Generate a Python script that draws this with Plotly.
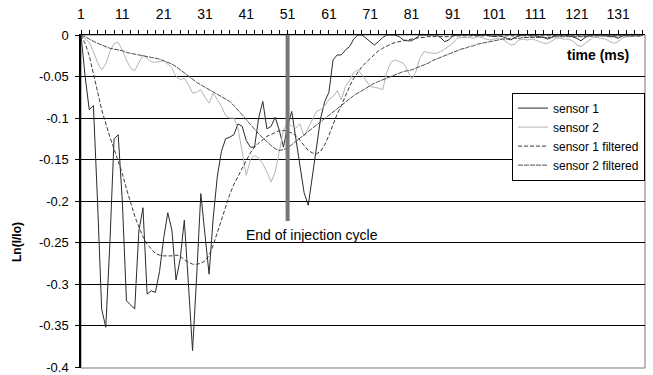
import plotly.graph_objects as go

# ---------------- data ----------------
time_idx = list(range(1, 138))

sensor1 = [
    0, -0.05, -0.09, -0.085, -0.2, -0.33, -0.352, -0.25, -0.125, -0.12,
    -0.2, -0.32, -0.325, -0.33, -0.236, -0.208, -0.312, -0.308, -0.31, -0.285,
    -0.245, -0.214, -0.235, -0.295, -0.27, -0.223, -0.3, -0.38, -0.29, -0.191,
    -0.24, -0.288, -0.22, -0.17, -0.14, -0.125, -0.123, -0.12, -0.107, -0.11,
    -0.127, -0.135, -0.135, -0.1, -0.08, -0.113, -0.11, -0.099, -0.115, -0.135,
    -0.11, -0.092, -0.125, -0.16, -0.19, -0.205, -0.17, -0.14, -0.1, -0.08,
    -0.069, -0.03, -0.024, -0.024, -0.018, -0.014, -0.005, 0, 0, -0.004,
    -0.008, -0.012, -0.008, -0.003, 0, 0, 0, -0.002, -0.006, -0.007,
    -0.007, -0.004, 0, 0, 0, 0, 0, -0.003, -0.008, -0.006,
    -0.001, 0, 0, 0, 0, 0, -0.001, 0, 0, -0.001,
    -0.002, -0.001, -0.002, -0.004, -0.006, -0.003, -0.001, 0, 0, -0.001,
    -0.001, -0.002, -0.003, -0.005, -0.002, 0, 0, 0, -0.001, -0.002,
    -0.004, -0.007, -0.003, 0, 0, 0, 0, -0.001, -0.002, -0.002,
    -0.004, -0.001, 0, 0, 0, -0.001, 0,
]

sensor2 = [
    0, -0.004, -0.009, -0.02, -0.033, -0.042, -0.035, -0.02, -0.01, -0.009,
    -0.018, -0.03, -0.04, -0.043, -0.033, -0.024, -0.028, -0.032, -0.033, -0.032,
    -0.031, -0.035, -0.04, -0.05, -0.054, -0.052, -0.06, -0.07, -0.069, -0.066,
    -0.075, -0.082, -0.07, -0.078, -0.086, -0.097, -0.1, -0.1, -0.113, -0.14,
    -0.169, -0.15, -0.145, -0.148, -0.155, -0.165, -0.177, -0.165, -0.14, -0.115,
    -0.105, -0.11, -0.112, -0.107, -0.122, -0.112, -0.103, -0.092, -0.09, -0.085,
    -0.078, -0.074, -0.067, -0.078, -0.062, -0.055, -0.045, -0.042, -0.048, -0.055,
    -0.062, -0.063, -0.064, -0.066, -0.045, -0.033, -0.03, -0.032, -0.034, -0.042,
    -0.053, -0.045, -0.028, -0.02, -0.021, -0.022, -0.022, -0.02, -0.017, -0.014,
    -0.01, -0.004, -0.003, -0.003, -0.003, -0.004, -0.002, -0.003, -0.005, -0.006,
    -0.005, -0.004, -0.005, -0.009, -0.012, -0.011, -0.006, -0.005, -0.006, -0.005,
    -0.006, -0.008, -0.01, -0.01, -0.007, -0.004, -0.004, -0.005, -0.005, -0.007,
    -0.012, -0.014, -0.01, -0.006, -0.003, -0.003, -0.004, -0.005, -0.008, -0.01,
    -0.008, -0.004, -0.002, -0.002, -0.001, -0.001, -0.001,
]

sensor1_filtered = [
    0, -0.01, -0.025, -0.045, -0.068, -0.09, -0.107, -0.123, -0.137, -0.152,
    -0.167, -0.185, -0.203, -0.218, -0.231, -0.243, -0.252, -0.258, -0.263, -0.265,
    -0.266, -0.266, -0.266, -0.265, -0.266, -0.271, -0.274, -0.276, -0.276, -0.275,
    -0.272, -0.265, -0.253, -0.238, -0.223, -0.206, -0.192, -0.18, -0.17, -0.161,
    -0.151, -0.142, -0.135, -0.13, -0.126, -0.122, -0.12, -0.117, -0.115, -0.115,
    -0.116, -0.118, -0.121, -0.127, -0.133, -0.139, -0.142, -0.143, -0.14, -0.132,
    -0.121, -0.108, -0.095, -0.085, -0.073, -0.062, -0.052, -0.045, -0.038, -0.033,
    -0.028, -0.023, -0.019, -0.016, -0.013, -0.011, -0.009, -0.008, -0.007, -0.006,
    -0.005, -0.004, -0.003, -0.003, -0.002, -0.002, -0.002, -0.002, -0.002, -0.002,
    -0.001, -0.001, -0.001, -0.001, -0.001, -0.001, -0.001, -0.001, -0.001, -0.001,
    -0.001, -0.001, -0.001, -0.001, -0.001, -0.001, -0.001, -0.001, -0.001, -0.001,
    -0.001, -0.001, -0.001, -0.001, -0.001, -0.001, -0.001, -0.001, -0.001, -0.001,
    -0.001, -0.001, -0.001, -0.001, -0.001, -0.001, -0.001, -0.001, -0.001, -0.001,
    -0.001, -0.001, -0.001, -0.001, -0.001, -0.001, -0.001,
]

sensor2_filtered = [
    0, -0.002, -0.005, -0.008, -0.01, -0.012, -0.014, -0.016, -0.017, -0.018,
    -0.019, -0.021, -0.022, -0.023, -0.024, -0.025, -0.026, -0.027, -0.028, -0.029,
    -0.031, -0.033, -0.035, -0.038, -0.042, -0.046, -0.05, -0.054, -0.057, -0.06,
    -0.063, -0.066, -0.069, -0.072, -0.075, -0.077, -0.08, -0.085, -0.09, -0.096,
    -0.102, -0.108, -0.114, -0.119, -0.124, -0.129, -0.133, -0.137, -0.139, -0.138,
    -0.136, -0.132, -0.128, -0.124, -0.12, -0.116, -0.112, -0.108, -0.104, -0.1,
    -0.096, -0.092, -0.088, -0.084, -0.08, -0.077, -0.073, -0.07, -0.066, -0.063,
    -0.06, -0.058, -0.056, -0.054, -0.052, -0.05, -0.048, -0.046, -0.044, -0.043,
    -0.042, -0.04, -0.038, -0.036, -0.034, -0.031, -0.029, -0.027, -0.025, -0.023,
    -0.021, -0.019, -0.017, -0.016, -0.014, -0.013, -0.011, -0.01, -0.009, -0.008,
    -0.007, -0.006, -0.005, -0.005, -0.004, -0.004, -0.004, -0.003, -0.003, -0.003,
    -0.003, -0.003, -0.003, -0.003, -0.003, -0.002, -0.002, -0.002, -0.002, -0.002,
    -0.002, -0.002, -0.002, -0.002, -0.001, -0.001, -0.001, -0.001, -0.001, -0.001,
    -0.001, -0.001, -0.001, -0.001, -0.001, -0.001, 0,
]

x_tick_labels = [str(v) for v in range(1, 132, 10)]
y_tick_values = [0, -0.05, -0.1, -0.15, -0.2, -0.25, -0.3, -0.35, -0.4]
y_tick_labels = ["0", "-0.05", "-0.1", "-0.15", "-0.2", "-0.25", "-0.3", "-0.35", "-0.4"]

injection_end = 51
injection_bar_bottom = -0.224

# ---------------- figure ----------------
FONT = "Liberation Sans"
fig = go.Figure()

fig.add_trace(go.Scatter(x=time_idx, y=sensor1, mode="lines", name="sensor 1",
                         line=dict(color="#2b2b2b", width=1)))
fig.add_trace(go.Scatter(x=time_idx, y=sensor2, mode="lines", name="sensor 2",
                         line=dict(color="#b4b4b4", width=1)))
fig.add_trace(go.Scatter(x=time_idx, y=sensor1_filtered, mode="lines", name="sensor 1 filtered",
                         line=dict(color="#3c3c3c", width=1, dash="4px,2px")))
fig.add_trace(go.Scatter(x=time_idx, y=sensor2_filtered, mode="lines", name="sensor 2 filtered",
                         line=dict(color="#505050", width=1, dash="5px,1px")))

x_tickvals = list(range(1, 138, 2))
x_ticktext = [str(v) if str(v) in x_tick_labels else "" for v in x_tickvals]

fig.update_layout(
    width=653, height=375,
    margin=dict(l=81, r=8, t=35, b=7),
    paper_bgcolor="white", plot_bgcolor="white",
    font=dict(family=FONT, size=14, color="black"),
    showlegend=True,
    legend=dict(x=1, y=0.827, xanchor="right", yanchor="top",
                bgcolor="white", bordercolor="black", borderwidth=1,
                font=dict(family=FONT, size=12), itemwidth=30,
                tracegroupgap=0),
    xaxis=dict(side="top", range=[1, 137.5], tickmode="array",
               tickvals=x_tickvals, ticktext=x_ticktext,
               ticks="outside", ticklen=4, tickcolor="black",
               showgrid=False, zeroline=False, showline=True,
               linecolor="black", linewidth=1, automargin=False,
               tickfont=dict(family=FONT, size=14), ticklabelstandoff=5),
    yaxis=dict(range=[-0.401, 0], tickmode="array",
               tickvals=y_tick_values, ticktext=y_tick_labels,
               ticks="outside", ticklen=4, tickcolor="black",
               showgrid=True, gridcolor="black", gridwidth=1,
               zeroline=False, showline=True, linecolor="black", linewidth=1.5,
               ticklabeloverflow="allow", automargin=False,
               tickfont=dict(family=FONT, size=13), ticklabelstandoff=4),
)

# plot area border (right/bottom)
fig.add_shape(type="rect", xref="paper", yref="paper", x0=0, x1=1, y0=0, y1=1,
              line=dict(color="#777777", width=1), layer="below")

# end of injection bar
fig.add_shape(type="line", xref="x", yref="y",
              x0=injection_end, x1=injection_end, y0=0, y1=injection_bar_bottom,
              line=dict(color="#777777", width=4), layer="above")

fig.add_annotation(x=40.4, y=-0.241, xref="x", yref="y", xanchor="left", yanchor="middle",
                   text="End of injection cycle", showarrow=False,
                   font=dict(family=FONT, size=14, color="black"))
fig.add_annotation(x=134, y=-0.024, xref="x", yref="y", xanchor="right", yanchor="middle",
                   text="<b>time (ms)</b>", showarrow=False,
                   font=dict(family=FONT, size=14, color="black"))
fig.add_annotation(x=-64 / 564, y=(368 - 242) / 333, xref="paper", yref="paper",
                   xanchor="center", yanchor="middle", textangle=-90,
                   text="<b>Ln(I/Io)</b>", showarrow=False,
                   font=dict(family=FONT, size=12, color="black"))

fig.write_html("out.html")
